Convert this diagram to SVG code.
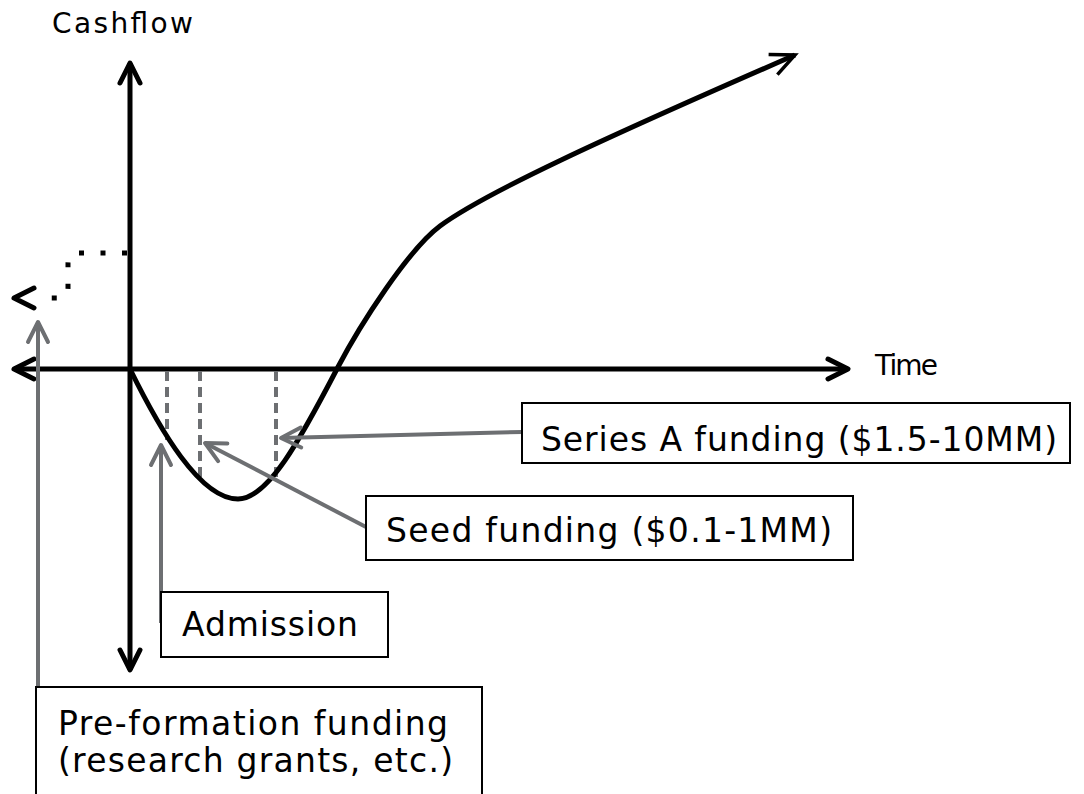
<svg xmlns="http://www.w3.org/2000/svg" width="1084" height="794" viewBox="0 0 1084 794">
<style>
.lbl{font-family:"DejaVu Sans","Liberation Sans",sans-serif;fill:#000}
.big{font-size:33px}
.ax{font-size:28px}
.box{fill:#fff;stroke:#000;stroke-width:2}
.axis{fill:none;stroke:#000;stroke-width:5}
.garr{fill:none;stroke:#6d6f72;stroke-width:4}
.dash{fill:none;stroke:#6d6f72;stroke-width:4;stroke-dasharray:10 6}
</style>
<defs>
<marker id="ah" markerUnits="userSpaceOnUse" viewBox="-30 -20 40 40" markerWidth="40" markerHeight="40" refX="0" refY="0" orient="auto-start-reverse" overflow="visible">
<path d="M-20,-10 L0,0 L-20,10" fill="none" stroke="#000" stroke-width="5" stroke-linecap="round" stroke-linejoin="round"/>
</marker>
<marker id="ahthin" markerUnits="userSpaceOnUse" viewBox="-30 -20 40 40" markerWidth="40" markerHeight="40" refX="0" refY="0" orient="auto" overflow="visible">
<path d="M-24,-11 L0,0 L-24,11" fill="none" stroke="#000" stroke-width="3.5" stroke-linecap="butt" stroke-linejoin="miter"/>
</marker>
<marker id="ahg" markerUnits="userSpaceOnUse" viewBox="-30 -20 40 40" markerWidth="40" markerHeight="40" refX="0" refY="0" orient="auto" overflow="visible">
<path d="M-20,-10 L0,0 L-20,10" fill="none" stroke="#6d6f72" stroke-width="4" stroke-linecap="round" stroke-linejoin="round"/>
</marker>
</defs>

<g id="axes-labels">
<text class="lbl ax" x="52" y="33" textLength="141">Cashflow</text>
<text class="lbl ax" x="875" y="375" textLength="63">Time</text>
</g>

<g id="connectors">
<path class="axis" d="M130,63 V670" marker-start="url(#ah)" marker-end="url(#ah)"/>
<path class="axis" d="M14,369 H848" marker-start="url(#ah)" marker-end="url(#ah)"/>
<path d="M127,253 H78 Q68,253 68,263 V288 Q68,298 58,298 H38" fill="none" stroke="#000" stroke-width="5" stroke-dasharray="5 16.5"/>
<path d="M20,298 H14" fill="none" stroke="none" marker-end="url(#ah)"/>
<path class="dash" d="M167,371 V440"/>
<path class="dash" d="M200,371 V477"/>
<path class="dash" d="M276,371 V481"/>
<path class="axis" d="M130,369 C160,430 200,499 238,499 C268,499 300,440 338,367 C360,325 408,250 440,226 C485,193 600,140 795,55" marker-end="url(#ahthin)"/>
<path class="garr" d="M161,623 V445" marker-end="url(#ahg)"/>
<path class="garr" d="M38,743 V322" marker-end="url(#ahg)"/>
<path class="garr" d="M366,527 L205,443" marker-end="url(#ahg)"/>
<path class="garr" d="M522,432 L281,438" marker-end="url(#ahg)"/>
</g>

<g id="series-a">
<rect class="box" x="522" y="403" width="548" height="60"/>
<text class="lbl big" x="541" y="451" textLength="516">Series A funding ($1.5-10MM)</text>
</g>

<g id="seed">
<rect class="box" x="366" y="496" width="487" height="64"/>
<text class="lbl big" x="386" y="542" textLength="446">Seed funding ($0.1-1MM)</text>
</g>

<g id="admission">
<rect class="box" x="161" y="592" width="227" height="65"/>
<text class="lbl big" x="182" y="636" textLength="176">Admission</text>
</g>

<g id="pre-formation">
<rect class="box" x="36" y="687" width="446" height="120"/>
<text class="lbl big" x="58" y="735" textLength="390">Pre-formation funding</text>
<text class="lbl big" x="58" y="772" textLength="395">(research grants, etc.)</text>
</g>
</svg>
